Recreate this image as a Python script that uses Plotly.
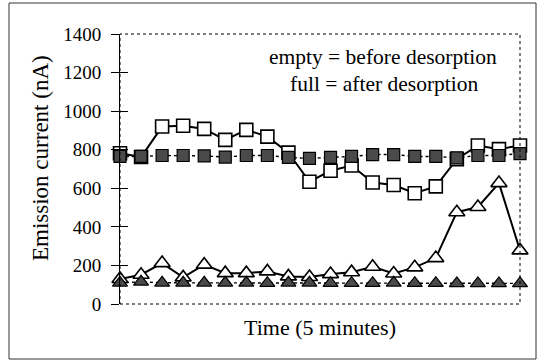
import plotly.graph_objects as go

time_idx = list(range(20))
empty_sq = [782, 762, 920, 924, 908, 851, 903, 868, 785, 634, 691, 718, 630, 617, 574, 610, 751, 822, 803, 822]
full_sq = [765, 765, 770, 770, 768, 762, 770, 770, 760, 755, 760, 765, 775, 775, 765, 765, 758, 770, 770, 780]
empty_tri = [130, 152, 212, 138, 204, 160, 160, 169, 143, 140, 155, 165, 193, 158, 190, 238, 476, 503, 627, 278]
full_tri = [110, 115, 110, 110, 110, 110, 110, 108, 110, 110, 108, 108, 108, 110, 108, 108, 107, 107, 107, 107]
y_ticks = [0, 200, 400, 600, 800, 1000, 1200, 1400]

FONT = "Liberation Serif, Times New Roman, serif"
fill_col = "#4a4a4a"

fig = go.Figure()
fig.add_trace(go.Scatter(x=time_idx, y=empty_sq, mode="lines+markers",
                         line=dict(color="black", width=2),
                         marker=dict(symbol="square", size=13, color="white",
                                     line=dict(color="black", width=1.6)),
                         cliponaxis=False, showlegend=False))
fig.add_trace(go.Scatter(x=time_idx, y=empty_tri, mode="lines+markers",
                         line=dict(color="black", width=2),
                         marker=dict(symbol="triangle-up", size=14, color="white",
                                     line=dict(color="black", width=1.6)),
                         cliponaxis=False, showlegend=False))
fig.add_trace(go.Scatter(x=time_idx, y=full_sq, mode="lines+markers",
                         line=dict(color="black", width=1.4, dash="dot"),
                         marker=dict(symbol="square", size=12, color=fill_col,
                                     line=dict(color="black", width=1.2)),
                         cliponaxis=False, showlegend=False))
fig.add_trace(go.Scatter(x=time_idx, y=full_tri, mode="lines+markers",
                         line=dict(color="black", width=1.4, dash="dot"),
                         marker=dict(symbol="triangle-up", size=13, color=fill_col,
                                     line=dict(color="black", width=1.2)),
                         cliponaxis=False, showlegend=False))
# invisible trace for secondary y axis (inside ticks)
fig.add_trace(go.Scatter(x=[time_idx[0]], y=[y_ticks[0]], yaxis="y2", mode="markers",
                         marker=dict(opacity=0), showlegend=False, hoverinfo="skip"))

fig.update_layout(
    width=538, height=361,
    margin=dict(l=120, r=18, t=34, b=57),
    paper_bgcolor="white", plot_bgcolor="white",
    font=dict(family=FONT, color="black", size=19),
    xaxis=dict(range=[0, 19], showticklabels=False, ticks="", showgrid=False,
               zeroline=False, showline=False),
    yaxis=dict(range=[0, 1400], tickvals=y_ticks, ticks="outside", ticklen=8,
               tickcolor="black", tickwidth=1, showgrid=False, zeroline=False,
               showline=True, linecolor="black", linewidth=1,
               ticklabelstandoff=6,
               tickfont=dict(size=19, family=FONT)),
    yaxis2=dict(range=[0, 1400], tickvals=y_ticks, overlaying="y", side="left",
                ticks="inside", ticklen=8, tickcolor="black", showticklabels=False,
                showgrid=False, zeroline=False, showline=False),
    shapes=[
        dict(type="rect", xref="paper", yref="paper", x0=0, x1=1, y0=0, y1=1,
             line=dict(color="black", width=1, dash="dot")),
        dict(type="rect", xref="paper", yref="paper",
             x0=(9 - 120)/400, x1=(536 - 120)/400,
             y0=(304 - 359)/270, y1=(304 - 3)/270,
             line=dict(color="#333333", width=1)),
    ],
    annotations=[
        dict(text="empty = before desorption", xref="paper", yref="paper",
             x=(383 - 120)/400, y=(304 - 57)/270, showarrow=False,
             xanchor="center", yanchor="middle",
             font=dict(size=21.5, family=FONT)),
        dict(text="full = after desorption", xref="paper", yref="paper",
             x=(384 - 120)/400, y=(304 - 84)/270, showarrow=False,
             xanchor="center", yanchor="middle",
             font=dict(size=21.5, family=FONT)),
        dict(text="Time (5 minutes)", xref="paper", yref="paper",
             x=0.5, y=(304 - 327)/270, showarrow=False,
             xanchor="center", yanchor="middle",
             font=dict(size=22, family=FONT)),
        dict(text="Emission current (nA)", xref="paper", yref="paper",
             x=(40 - 120)/400, y=(304 - 158)/270, showarrow=False, textangle=-90,
             xanchor="center", yanchor="middle",
             font=dict(size=23, family=FONT)),
    ],
)
fig.write_html("out.html")
